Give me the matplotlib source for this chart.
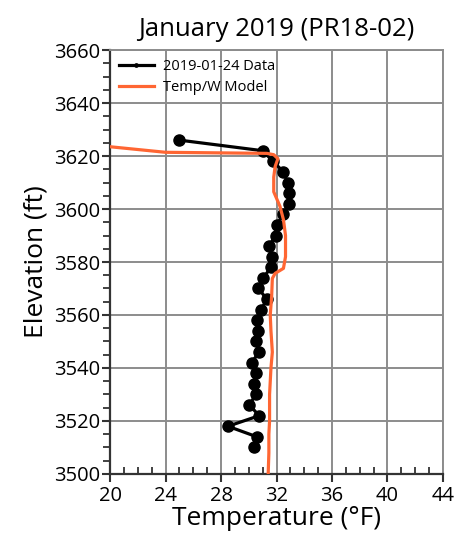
import matplotlib
matplotlib.use("Agg")
import matplotlib.pyplot as plt
from matplotlib.ticker import MultipleLocator

plt.rcParams['font.family'] = ['Open Sans', 'DejaVu Sans']

# Measured data (2019-01-24)
data_elev = [3626, 3622, 3618, 3614, 3610, 3606, 3602, 3598, 3594, 3590,
             3586, 3582, 3578, 3574, 3570, 3566, 3562, 3558, 3554, 3550,
             3546, 3542, 3538, 3534, 3530, 3526, 3522, 3518, 3514, 3510]
data_temp = [25.0, 31.0, 31.75, 32.5, 32.8, 32.9, 32.9, 32.5, 32.0, 31.95,
             31.45, 31.65, 31.6, 31.05, 30.7, 31.3, 30.9, 30.6, 30.7, 30.55,
             30.75, 30.2, 30.55, 30.35, 30.5, 30.05, 30.75, 28.5, 30.6, 30.35]

# Temp/W model
model_elev = [3623.5, 3621.4, 3621.0, 3620.5, 3619.0, 3616.0, 3612.0, 3606.5,
              3601.0, 3596.0, 3590.0, 3582.0, 3577.6, 3575.7, 3573.8, 3567.0,
              3560.0, 3554.0, 3546.0, 3540.0, 3530.0, 3520.0, 3515.0, 3508.0, 3500.0]
model_temp = [20.0, 24.0, 31.3, 31.8, 32.1, 31.9, 31.8, 31.8,
              32.25, 32.5, 32.65, 32.65, 32.5, 31.9, 31.7, 31.65,
              31.55, 31.6, 31.7, 31.6, 31.5, 31.5, 31.45, 31.45, 31.4]

title = "January 2019 (PR18-02)"
xlabel = "Temperature (°F)"
ylabel = "Elevation (ft)"

fig = plt.figure(figsize=(4.55, 5.42), dpi=100)
ax = fig.add_axes([0.2418, 0.1255, 0.7318, 0.7822])

ax.plot(data_temp, data_elev, color='black', lw=2.3, marker='o', ms=8,
        label='2019-01-24 Data', zorder=3)
ax.plot(model_temp, model_elev, color='#FF6633', lw=2.3,
        label='Temp/W Model', zorder=4)

ax.set_xlim(20, 44)
ax.set_ylim(3500, 3660)
ax.xaxis.set_major_locator(MultipleLocator(4))
ax.xaxis.set_minor_locator(MultipleLocator(1))
ax.yaxis.set_major_locator(MultipleLocator(20))
ax.yaxis.set_minor_locator(MultipleLocator(5))
ax.grid(True, which='major', color='#8c8c8c', lw=1.4)
ax.set_axisbelow(True)

ax.tick_params(axis='x', which='major', direction='out', length=6, width=1.5,
               labelsize=14.5, color='#333333', pad=3)
ax.tick_params(axis='x', which='minor', direction='in', length=5, width=1.3,
               color='#333333')
ax.tick_params(axis='y', which='major', direction='out', length=6, width=1.5,
               labelsize=14.5, color='#333333', pad=1)
ax.tick_params(axis='y', which='minor', direction='out', length=5, width=1.3,
               color='#333333')

for s in ['left', 'bottom']:
    ax.spines[s].set_color('#333333')
    ax.spines[s].set_linewidth(1.6)
for s in ['top', 'right']:
    ax.spines[s].set_color('#8c8c8c')
    ax.spines[s].set_linewidth(1.4)

ax.set_title(title, fontsize=18.5, pad=10)
ax.set_xlabel(xlabel, fontsize=19, labelpad=0)
ax.set_ylabel(ylabel, fontsize=19, labelpad=4)

ax.legend(loc='upper left', frameon=False, fontsize=10.5, handlelength=2.4,
          borderaxespad=0.2, handletextpad=0.6, labelspacing=0.4, markerscale=0.3)

fig.savefig('out.png', dpi=100)
